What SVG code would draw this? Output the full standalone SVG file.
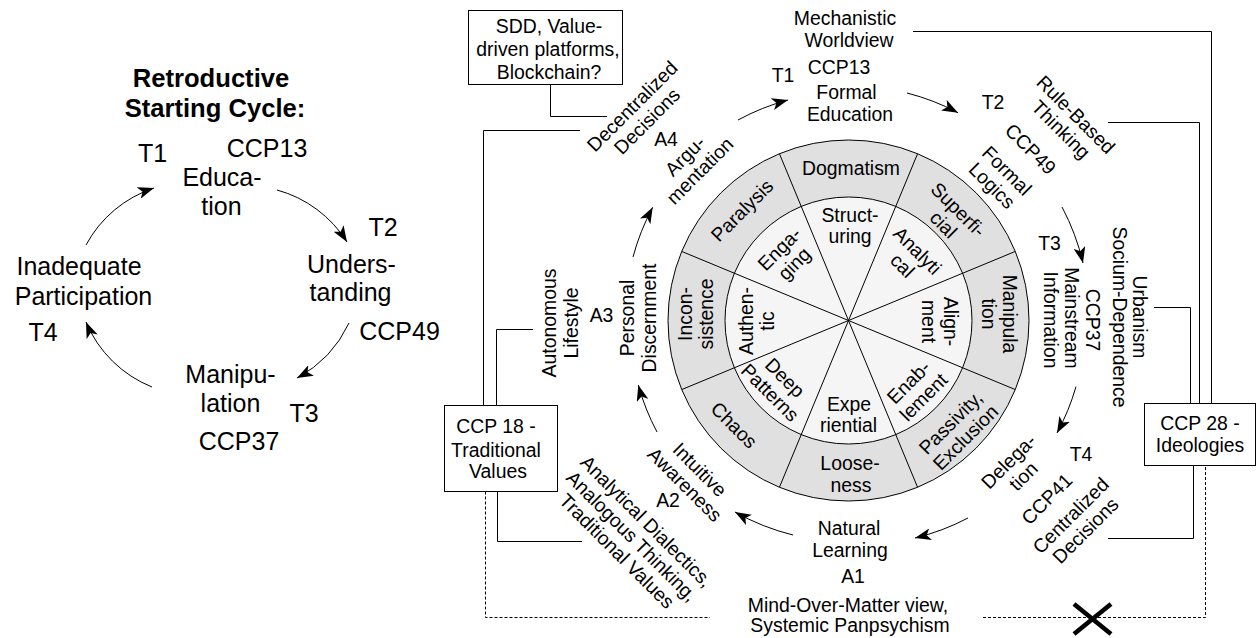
<svg xmlns="http://www.w3.org/2000/svg" width="1256" height="638" viewBox="0 0 1256 638">
  <defs>
    <style>
      text { font-family: "Liberation Sans", Arial, sans-serif; font-size: 19.4px; fill: #000; text-anchor: middle; }
      .big { font-size: 25px; }
      .title { font-size: 25.6px; font-weight: bold; }
      .conn { fill: none; stroke: #000; stroke-width: 1; }
      .dash { stroke-dasharray: 3 2; }
      .arr { fill: none; stroke: #000; stroke-width: 1; marker-end: url(#ah); }
      .box { fill: #fff; stroke: #000; stroke-width: 1; }
      .ring { fill: #e0e0e0; stroke: #000; stroke-width: 1; }
      .core { fill: #f5f5f5; stroke: #000; stroke-width: 1; }
      .spoke { stroke: #000; stroke-width: 1; }
      .cross { stroke: #000; stroke-width: 4.5; }
    </style>
    <marker id="ah" viewBox="0 0 16 12" refX="16" refY="6" markerWidth="16" markerHeight="12" markerUnits="userSpaceOnUse" orient="auto">
      <path d="M0,0 L16,6 L0,12 L4,6 Z" fill="#000"/>
    </marker>
  </defs>

  <!-- Starting cycle (left) -->
  <g id="cycle-title">
    <text class="title" x="211" y="86.5">Retroductive</text>
    <text class="title" x="215" y="116.5">Starting Cycle:</text>
  </g>
  <g id="cycle-t1">
    <text class="big" x="152.5" y="162">T1</text>
    <text class="big" x="267" y="156.7">CCP13</text>
    <text class="big" x="222" y="186">Educa-</text>
    <text class="big" x="221.5" y="215">tion</text>
  </g>
  <g id="cycle-t2">
    <text class="big" x="383" y="236">T2</text>
    <text class="big" x="351.5" y="273">Unders-</text>
    <text class="big" x="350.5" y="301">tanding</text>
    <text class="big" x="399.5" y="340">CCP49</text>
  </g>
  <g id="cycle-t3">
    <text class="big" x="230.5" y="383">Manipu-</text>
    <text class="big" x="230.5" y="412">lation</text>
    <text class="big" x="304" y="422">T3</text>
    <text class="big" x="239" y="450">CCP37</text>
  </g>
  <g id="cycle-t4">
    <text class="big" x="79" y="274.5">Inadequate</text>
    <text class="big" x="83.5" y="305">Participation</text>
    <text class="big" x="43" y="341">T4</text>
  </g>
  <g id="cycle-arrows">
    <path class="arr" d="M86,245 A120,120 0 0 1 154,188"/>
    <path class="arr" d="M277,190 A120,120 0 0 1 347,242"/>
    <path class="arr" d="M349,323 A120,120 0 0 1 297,378"/>
    <path class="arr" d="M152,387 A120,120 0 0 1 86,322"/>
  </g>

  <!-- Wheel -->
  <g id="wheel">
    <circle class="ring" cx="848.5" cy="320.5" r="180.5"/>
    <circle class="core" cx="848.5" cy="320.5" r="123.5"/>
    <line class="spoke" x1="779.43" y1="487.26" x2="917.57" y2="153.74"/>
    <line class="spoke" x1="681.74" y1="389.57" x2="1015.26" y2="251.43"/>
    <line class="spoke" x1="681.74" y1="251.43" x2="1015.26" y2="389.57"/>
    <line class="spoke" x1="779.43" y1="153.74" x2="917.57" y2="487.26"/>
  </g>
  <g id="ring-labels">
    <text x="851" y="175">Dogmatism</text>
    <text transform="translate(951,217) rotate(45)"><tspan x="0" y="-3.7">Superfi-</tspan><tspan x="0" y="17.3">cial</tspan></text>
    <text transform="translate(1003.3,314) rotate(90)"><tspan x="0" y="0">Manipula</tspan><tspan x="0" y="21.6">tion</tspan></text>
    <text transform="translate(958,430) rotate(-45)"><tspan x="0" y="-3.7">Passivity,</tspan><tspan x="0" y="17.3">Exclusion</tspan></text>
    <text x="850" y="470"><tspan x="850" y="470">Loose-</tspan><tspan x="851" y="491.7">ness</tspan></text>
    <text transform="translate(734.2,425) rotate(45)" y="6.8">Chaos</text>
    <text transform="translate(691.5,314) rotate(-90)"><tspan x="0" y="0">Incon-</tspan><tspan x="0" y="21.7">sistence</tspan></text>
    <text transform="translate(743.3,211.7) rotate(-45)" y="5">Paralysis</text>
  </g>
  <g id="core-labels">
    <text><tspan x="850" y="221.7">Struct-</tspan><tspan x="850" y="243.4">uring</tspan></text>
    <text transform="translate(910,258) rotate(45)"><tspan x="0" y="-3.7">Analyti</tspan><tspan x="0" y="17.3">cal</tspan></text>
    <text transform="translate(944.4,321.5) rotate(90)"><tspan x="0" y="0">Align-</tspan><tspan x="0" y="22">ment</tspan></text>
    <text transform="translate(916,389.6) rotate(-45)"><tspan x="0" y="-3.7">Enab-</tspan><tspan x="0" y="17.3">lement</tspan></text>
    <text><tspan x="849" y="410.5">Expe</tspan><tspan x="848.5" y="431.7">riential</tspan></text>
    <text transform="translate(777.5,385) rotate(45)"><tspan x="0" y="-3.7">Deep</tspan><tspan x="0" y="17.3">Patterns</tspan></text>
    <text transform="translate(752.5,321) rotate(-90)"><tspan x="0" y="0">Authen-</tspan><tspan x="0" y="21.5">tic</tspan></text>
    <text transform="translate(786.7,256.2) rotate(-45)"><tspan x="0" y="-3.7">Enga-</tspan><tspan x="0" y="17.3">ging</tspan></text>
  </g>

  <!-- Stations around the wheel -->
  <g id="t1">
    <text x="845" y="25">Mechanistic</text>
    <text x="849" y="46.7">Worldview</text>
    <text x="783" y="82">T1</text>
    <text x="839" y="74">CCP13</text>
    <text x="846.5" y="99">Formal</text>
    <text x="850" y="121">Education</text>
  </g>
  <g id="t2">
    <text x="993" y="109">T2</text>
    <text transform="translate(1068.5,122) rotate(45)"><tspan x="0" y="-3.7">Rule-Based</tspan><tspan x="0" y="17.3">Thinking</tspan></text>
    <text transform="translate(1030.7,149) rotate(45)" y="6.8">CCP49</text>
    <text transform="translate(999.5,178) rotate(45)"><tspan x="0" y="-3.7">Formal</tspan><tspan x="0" y="17.3">Logics</tspan></text>
  </g>
  <g id="t3">
    <text x="1049.5" y="250">T3</text>
    <text transform="translate(1086,320) rotate(90)"><tspan x="0" y="0">CCP37</tspan><tspan x="-2" y="21">Mainstream</tspan><tspan x="0" y="42">Information</tspan></text>
    <text transform="translate(1133,317) rotate(90)"><tspan x="0" y="0">Urbanism</tspan><tspan x="0" y="20">Socium-Dependence</tspan></text>
  </g>
  <g id="t4">
    <text x="1081" y="460.7">T4</text>
    <text transform="translate(1015.8,468.8) rotate(-45)"><tspan x="0" y="-3.7">Delega-</tspan><tspan x="0" y="17.3">tion</tspan></text>
    <text transform="translate(1046.7,499) rotate(-45)" y="6.8">CCP41</text>
    <text transform="translate(1078,523) rotate(-45)"><tspan x="0" y="-3.7">Centralized</tspan><tspan x="0" y="17.3">Decisions</tspan></text>
  </g>
  <g id="a1">
    <text x="849" y="535">Natural</text>
    <text x="850" y="557">Learning</text>
    <text x="853" y="583">A1</text>
    <text x="848" y="612">Mind-Over-Matter view,</text>
    <text x="850" y="632">Systemic Panpsychism</text>
  </g>
  <g id="a2">
    <text x="668" y="506.7">A2</text>
    <text transform="translate(692.4,477) rotate(45)"><tspan x="0" y="-3.7">Intuitive</tspan><tspan x="0" y="17.3">Awareness</tspan></text>
    <text transform="translate(631.8,536.1) rotate(45)"><tspan x="0" y="-14.2">Analytical Dialectics,</tspan><tspan x="0" y="6.8">Analogous Thinking,</tspan><tspan x="0" y="27.8">Traditional Values</tspan></text>
  </g>
  <g id="a3">
    <text x="601.5" y="321.7">A3</text>
    <text transform="translate(634,318) rotate(-90)"><tspan x="0" y="0">Personal</tspan><tspan x="0" y="21.7">Discernment</tspan></text>
    <text transform="translate(556,323) rotate(-90)"><tspan x="0" y="0">Autonomous</tspan><tspan x="0" y="22">Lifestyle</tspan></text>
  </g>
  <g id="a4">
    <text x="666" y="146">A4</text>
    <text transform="translate(692.3,163.3) rotate(-45)"><tspan x="0" y="-3.7">Argu-</tspan><tspan x="0" y="17.3">mentation</tspan></text>
    <text transform="translate(639.5,113.7) rotate(-45)"><tspan x="0" y="-3.7">Decentralized</tspan><tspan x="0" y="17.3">Decisions</tspan></text>
  </g>

  <!-- Boxes -->
  <g id="box-sdd">
    <rect class="box" x="468.5" y="10.5" width="154" height="74"/>
    <text x="549" y="33">SDD, Value-</text>
    <text x="548" y="56">driven platforms,</text>
    <text x="549" y="79">Blockchain?</text>
  </g>
  <g id="box-ccp18">
    <rect class="box" x="444.5" y="405.5" width="113" height="86"/>
    <text x="496" y="433.3">CCP 18 -</text>
    <text x="496" y="456.7">Traditional</text>
    <text x="498" y="478.3">Values</text>
  </g>
  <g id="box-ccp28">
    <rect class="box" x="1144.5" y="403.5" width="111" height="62"/>
    <text x="1200" y="430">CCP 28 -</text>
    <text x="1200" y="451.7">Ideologies</text>
  </g>

  <!-- Connectors -->
  <g id="connectors">
    <path class="arr" d="M738,120 A230,230 0 0 1 788,100"/>
    <path class="arr" d="M907,93 A230,230 0 0 1 958,112.7"/>
    <path class="arr" d="M1062,207 A230,230 0 0 1 1083,263"/>
    <path class="arr" d="M1076,386.7 A230,230 0 0 1 1057,433"/>
    <path class="arr" d="M968,518 A230,230 0 0 1 915,538"/>
    <path class="arr" d="M793,535 A230,230 0 0 1 735,512"/>
    <path class="arr" d="M657,432 A230,230 0 0 1 638.3,385"/>
    <path class="arr" d="M633,257 A230,230 0 0 1 652.7,207.3"/>

    <path class="conn" d="M550.5,84.5 V116.5 H607"/>
    <path class="conn" d="M580,130.5 H483.5 V405.5"/>
    <path class="conn" d="M496.5,405.5 V329.5 H533"/>
    <path class="conn" d="M497.5,491.5 V541.5 H582"/>
    <path class="conn dash" d="M485.5,491.5 V617.5 H710"/>
    <path class="conn dash" d="M983,617.5 H1205.5 V465.5"/>
    <path class="conn" d="M913,31.5 H1211.5 V403.5"/>
    <path class="conn" d="M1108,122.5 H1199.5 V403.5"/>
    <path class="conn" d="M1154,307.5 H1190.5 V403.5"/>
    <path class="conn" d="M1193.5,465.5 V538.5 H1108"/>
    <line class="cross" x1="1074" y1="604" x2="1111" y2="634"/>
    <line class="cross" x1="1074" y1="634" x2="1111" y2="604"/>
  </g>
</svg>
